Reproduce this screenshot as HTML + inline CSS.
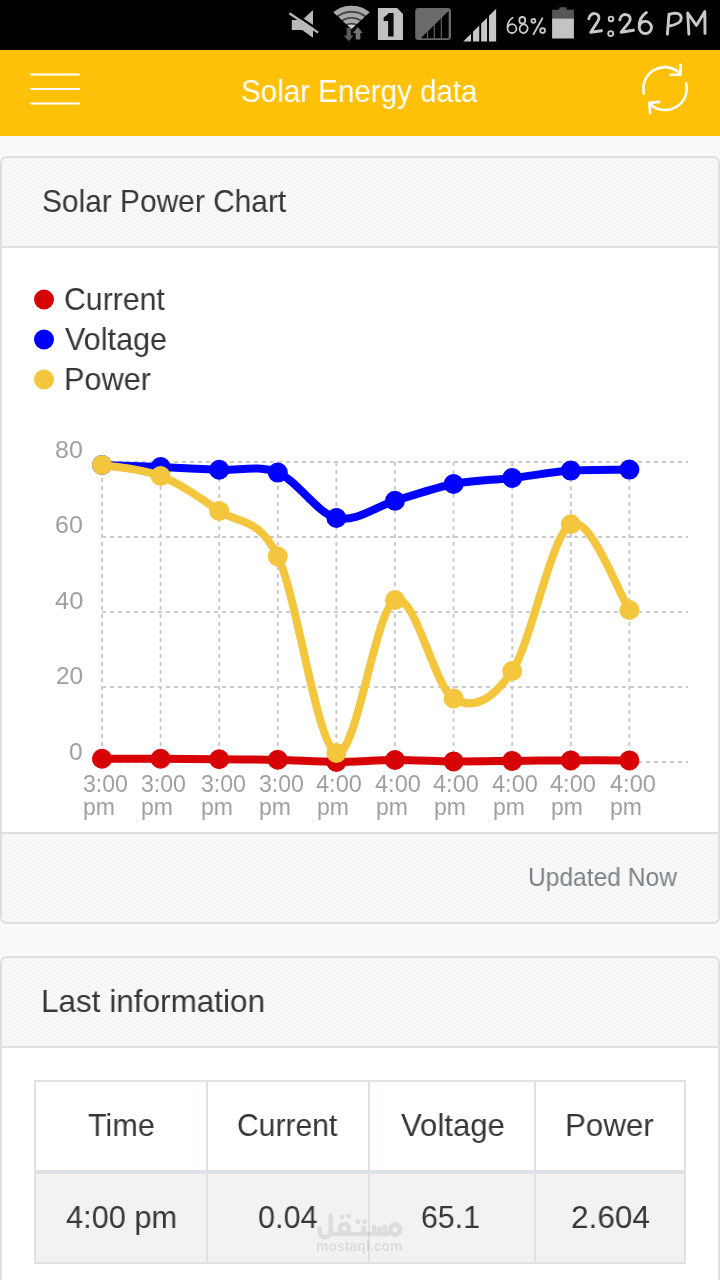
<!DOCTYPE html>
<html>
<head>
<meta charset="utf-8">
<title>Solar Energy data</title>
<style>
*{box-sizing:border-box;margin:0;padding:0}
html,body{width:720px;height:1280px;overflow:hidden;background:#f9f9f9;font-family:"Liberation Sans",sans-serif;color:#373737}
.abs{position:absolute}
#statusbar{left:0;top:0;width:720px;height:50px;background:#000}
#appbar{left:0;top:50px;width:720px;height:86px;background:#ffc107}
.card{left:0;width:720px;border:2px solid #dfdfdf;border-radius:7px;background:#fff;overflow:hidden}
.chead{left:0;top:0;width:716px;height:90px;background:#f8f8f8;border-bottom:2px solid #dfdfdf}
.chead,.cfoot{background-image:radial-gradient(circle at 0.5px 0.5px,#efefef 0.45px,rgba(239,239,239,0) 0.8px),radial-gradient(circle at 0.5px 0.5px,#efefef 0.45px,rgba(239,239,239,0) 0.8px);background-size:4px 4px,4px 4px;background-position:0 0,2px 2px}
.cfoot{left:0;width:716px;height:90px;background-color:#f8f8f8;border-top:2px solid #dfdfdf}
.t{position:absolute;white-space:nowrap;line-height:1;transform-origin:left top;will-change:transform}
.main{font-size:31px;color:#373737}
/* table */
.tb{background:#dee2e6}
.cell{background:#fff}
.cellb{background:#f2f2f2}
</style>
</head>
<body>
<div id="statusbar" class="abs"></div>
<div id="appbar" class="abs"></div>

<!-- CARD 1 -->
<div id="card1" class="abs card" style="top:156px;height:768px">
  <div class="abs chead"></div>
  <div class="abs cfoot" style="top:674px"></div>
</div>

<!-- CARD 2 -->
<div id="card2" class="abs card" style="top:956px;height:360px;border-bottom-left-radius:0;border-bottom-right-radius:0">
  <div class="abs chead"></div>
</div>

<!-- TABLE -->
<div id="table" class="abs tb" style="left:34px;top:1080px;width:652px;height:184px"></div>
<div class="abs cell"  style="left:36px;top:1082px;width:170px;height:88px"></div>
<div class="abs cell"  style="left:208px;top:1082px;width:160px;height:88px"></div>
<div class="abs cell"  style="left:370px;top:1082px;width:164px;height:88px"></div>
<div class="abs cell"  style="left:536px;top:1082px;width:148px;height:88px"></div>
<div class="abs cellb" style="left:36px;top:1174px;width:170px;height:88px"></div>
<div class="abs cellb" style="left:208px;top:1174px;width:160px;height:88px"></div>
<div class="abs cellb" style="left:370px;top:1174px;width:164px;height:88px"></div>
<div class="abs cellb" style="left:536px;top:1174px;width:148px;height:88px"></div>

<div class="t" style="left:241.15px;top:75.00px;font-size:32px;color:#fff;transform:scaleX(0.9228);">Solar Energy data</div>
<div class="t" style="left:41.83px;top:185.40px;font-size:32px;color:#373737;transform:scaleX(0.9340);">Solar Power Chart</div>
<div class="t" style="left:63.71px;top:282.80px;font-size:32px;color:#373737;transform:scaleX(0.9448);">Current</div>
<div class="t" style="left:64.70px;top:322.80px;font-size:32px;color:#373737;transform:scaleX(0.9552);">Voltage</div>
<div class="t" style="left:64.12px;top:362.80px;font-size:32px;color:#373737;transform:scaleX(0.9586);">Power</div>
<div class="t" style="left:55.44px;top:438.52px;font-size:23.5px;color:#a0a0a0;transform:scaleX(1.0625);">80</div>
<div class="t" style="left:55.44px;top:514.02px;font-size:23.5px;color:#a0a0a0;transform:scaleX(1.0625);">60</div>
<div class="t" style="left:54.92px;top:590.02px;font-size:23.5px;color:#a0a0a0;transform:scaleX(1.0833);">40</div>
<div class="t" style="left:55.96px;top:664.52px;font-size:23.5px;color:#a0a0a0;transform:scaleX(1.0417);">20</div>
<div class="t" style="left:69.45px;top:740.52px;font-size:23.5px;color:#a0a0a0;transform:scaleX(1.0455);">0</div>
<div class="t" style="left:82.90px;top:772.55px;font-size:23px;color:#a0a0a0;transform:scaleX(1.0047);">3:00</div>
<div class="t" style="left:83.11px;top:796.25px;font-size:23px;color:#a0a0a0;transform:scaleX(0.9867);">pm</div>
<div class="t" style="left:140.80px;top:772.55px;font-size:23px;color:#a0a0a0;transform:scaleX(1.0047);">3:00</div>
<div class="t" style="left:141.01px;top:796.25px;font-size:23px;color:#a0a0a0;transform:scaleX(0.9867);">pm</div>
<div class="t" style="left:200.80px;top:772.55px;font-size:23px;color:#a0a0a0;transform:scaleX(1.0047);">3:00</div>
<div class="t" style="left:201.01px;top:796.25px;font-size:23px;color:#a0a0a0;transform:scaleX(0.9867);">pm</div>
<div class="t" style="left:258.70px;top:772.55px;font-size:23px;color:#a0a0a0;transform:scaleX(1.0047);">3:00</div>
<div class="t" style="left:258.91px;top:796.25px;font-size:23px;color:#a0a0a0;transform:scaleX(0.9867);">pm</div>
<div class="t" style="left:316.18px;top:772.55px;font-size:23px;color:#a0a0a0;transform:scaleX(1.0233);">4:00</div>
<div class="t" style="left:317.01px;top:796.25px;font-size:23px;color:#a0a0a0;transform:scaleX(0.9867);">pm</div>
<div class="t" style="left:375.38px;top:772.55px;font-size:23px;color:#a0a0a0;transform:scaleX(1.0233);">4:00</div>
<div class="t" style="left:376.21px;top:796.25px;font-size:23px;color:#a0a0a0;transform:scaleX(0.9867);">pm</div>
<div class="t" style="left:433.28px;top:772.55px;font-size:23px;color:#a0a0a0;transform:scaleX(1.0233);">4:00</div>
<div class="t" style="left:434.11px;top:796.25px;font-size:23px;color:#a0a0a0;transform:scaleX(0.9867);">pm</div>
<div class="t" style="left:492.08px;top:772.55px;font-size:23px;color:#a0a0a0;transform:scaleX(1.0233);">4:00</div>
<div class="t" style="left:492.91px;top:796.25px;font-size:23px;color:#a0a0a0;transform:scaleX(0.9867);">pm</div>
<div class="t" style="left:550.38px;top:772.55px;font-size:23px;color:#a0a0a0;transform:scaleX(1.0233);">4:00</div>
<div class="t" style="left:551.21px;top:796.25px;font-size:23px;color:#a0a0a0;transform:scaleX(0.9867);">pm</div>
<div class="t" style="left:609.58px;top:772.55px;font-size:23px;color:#a0a0a0;transform:scaleX(1.0233);">4:00</div>
<div class="t" style="left:610.41px;top:796.25px;font-size:23px;color:#a0a0a0;transform:scaleX(0.9867);">pm</div>
<div class="t" style="left:527.53px;top:864.95px;font-size:25px;color:#7b8288;transform:scaleX(0.9833);">Updated Now</div>
<div class="t" style="left:40.75px;top:985.40px;font-size:32px;color:#373737;transform:scaleX(0.9839);">Last information</div>
<div class="t" style="left:87.55px;top:1108.55px;font-size:32px;color:#373737;transform:scaleX(0.9544);">Time</div>
<div class="t" style="left:237.42px;top:1108.55px;font-size:32px;color:#373737;transform:scaleX(0.9400);">Current</div>
<div class="t" style="left:400.80px;top:1108.55px;font-size:32px;color:#373737;transform:scaleX(0.9724);">Voltage</div>
<div class="t" style="left:565.37px;top:1108.55px;font-size:32px;color:#373737;transform:scaleX(0.9782);">Power</div>
<div class="t" style="left:65.74px;top:1200.80px;font-size:32px;color:#373737;transform:scaleX(0.9602);">4:00 pm</div>
<div class="t" style="left:258.14px;top:1200.80px;font-size:32px;color:#373737;transform:scaleX(0.9567);">0.04</div>
<div class="t" style="left:421.01px;top:1200.80px;font-size:32px;color:#373737;transform:scaleX(0.9475);">65.1</div>
<div class="t" style="left:570.73px;top:1200.80px;font-size:32px;color:#373737;transform:scaleX(0.9857);">2.604</div>
<div class="t" style="left:315.80px;top:1238.60px;font-size:14px;color:rgba(0,0,0,0.09);transform:scaleX(1.0024);font-weight:bold;">mostaql.com</div>
<svg class="abs" style="left:0;top:0" width="720" height="1280" viewBox="0 0 720 1280">
<circle cx="44" cy="299.5" r="10" fill="#d70206"/>
<circle cx="44" cy="339.5" r="10" fill="#0000ff"/>
<circle cx="44" cy="379.5" r="10" fill="#f4c63d"/>
<g stroke="#cbcbcb" stroke-width="2" stroke-dasharray="4 4" fill="none">
<path d="M102.0,462V762"/>
<path d="M160.6,462V762"/>
<path d="M219.2,462V762"/>
<path d="M277.8,462V762"/>
<path d="M336.4,462V762"/>
<path d="M395.0,462V762"/>
<path d="M453.6,462V762"/>
<path d="M512.2,462V762"/>
<path d="M570.8,462V762"/>
<path d="M629.4,462V762"/>
<path d="M102,462H688"/>
<path d="M102,537H688"/>
<path d="M102,612H688"/>
<path d="M102,687H688"/>
<path d="M102,762H688"/>
</g>
<path d="M102.0,758.8C111.8,758.8 141.1,758.7 160.6,758.8C180.1,758.9 199.7,759.1 219.2,759.3C238.7,759.5 258.3,759.3 277.8,759.8C297.3,760.2 316.9,762.0 336.4,762.0C355.9,762.0 375.5,760.1 395.0,760.0C414.5,759.9 434.1,761.2 453.6,761.4C473.1,761.5 492.7,761.1 512.2,760.9C531.7,760.7 551.3,760.5 570.8,760.4C590.3,760.3 619.6,760.4 629.4,760.4" fill="none" stroke="#d70206" stroke-width="8" stroke-linejoin="round"/>
<path d="M102.0,758.8h0.01M160.6,758.8h0.01M219.2,759.3h0.01M277.8,759.8h0.01M336.4,762.0h0.01M395.0,760.0h0.01M453.6,761.4h0.01M512.2,760.9h0.01M570.8,760.4h0.01M629.4,760.4h0.01" fill="none" stroke="#d70206" stroke-width="20" stroke-linecap="round"/>
<path d="M102.0,465.0C111.8,465.3 141.1,466.2 160.6,467.0C180.1,467.8 199.7,468.9 219.2,469.8C238.7,470.7 258.3,464.6 277.8,472.6C297.3,480.6 316.9,513.3 336.4,518.0C355.9,522.7 375.5,506.5 395.0,500.8C414.5,495.1 434.1,487.8 453.6,484.0C473.1,480.2 492.7,480.2 512.2,478.0C531.7,475.8 551.3,472.0 570.8,470.6C590.3,469.2 619.6,469.8 629.4,469.6" fill="none" stroke="#0000ff" stroke-width="8" stroke-linejoin="round"/>
<path d="M102.0,465.0h0.01M160.6,467.0h0.01M219.2,469.8h0.01M277.8,472.6h0.01M336.4,518.0h0.01M395.0,500.8h0.01M453.6,484.0h0.01M512.2,478.0h0.01M570.8,470.6h0.01M629.4,469.6h0.01" fill="none" stroke="#0000ff" stroke-width="20" stroke-linecap="round"/>
<path d="M102.0,465.0C111.8,466.8 141.1,468.3 160.6,476.0C180.1,483.7 199.7,497.6 219.2,511.0C238.7,524.4 258.3,516.2 277.8,556.5C297.3,596.8 316.9,745.8 336.4,753.0C355.9,760.2 375.5,609.1 395.0,600.0C414.5,590.9 434.1,686.7 453.6,698.5C473.1,710.3 492.7,700.1 512.2,671.0C531.7,641.9 551.3,534.4 570.8,524.2C590.3,514.0 619.6,595.7 629.4,610.0" fill="none" stroke="#f4c63d" stroke-width="8" stroke-linejoin="round"/>
<path d="M102.0,465.0h0.01M160.6,476.0h0.01M219.2,511.0h0.01M277.8,556.5h0.01M336.4,753.0h0.01M395.0,600.0h0.01M453.6,698.5h0.01M512.2,671.0h0.01M570.8,524.2h0.01M629.4,610.0h0.01" fill="none" stroke="#f4c63d" stroke-width="20" stroke-linecap="round"/>
</svg>
<svg class="abs" style="left:0;top:0" width="720" height="140" viewBox="0 0 720 140">
<!-- hamburger -->
<g stroke="#fff" stroke-width="2.2" stroke-linecap="round" fill="none">
<path d="M31,74.5H79"/><path d="M31,89H79"/><path d="M31,103.5H79"/>
</g>
<!-- refresh -->
<g stroke="#fff" stroke-width="2.6" stroke-linecap="round" stroke-linejoin="round" fill="none">
<path d="M643.9,93.8A21.6,21.6 0 0 1 680.3,73.6"/>
<path d="M680.6,64.8V74.8H670.6"/>
<path d="M686.1,83.4A21.6,21.6 0 0 1 649.6,103.5"/>
<path d="M650.1,113.2L649.3,102.9L659.3,101.9"/>
</g>
<!-- mute speaker -->
<g fill="#b9b9b9">
<path d="M291.8,20.1H302.2L313,10V37.8L302.2,29.9H291.8Z"/>
</g>
<path d="M290.7,11.3L319.5,30.7" stroke="#000" stroke-width="2.4" fill="none"/>
<path d="M289.4,13.2L318.2,32.6" stroke="#b9b9b9" stroke-width="2.3" fill="none"/>
<!-- wifi -->
<clipPath id="wf"><path d="M0,0.6L-32,-29V-40H32V-29Z"/></clipPath>
<g transform="translate(351.5,28.4)" clip-path="url(#wf)">
<circle cx="0" cy="5.9" r="28.6" fill="#474747"/>
<g fill="none" stroke="#a9a9a9">
<circle cx="0" cy="5.9" r="26.1" stroke-width="5"/>
<circle cx="0" cy="5.9" r="19.5" stroke-width="4.2"/>
<circle cx="0" cy="5.9" r="13.5" stroke-width="4.1"/>
</g>
<circle cx="0" cy="5.9" r="9.7" fill="#cdcdcd"/>
</g>
<path d="M346.7,27.8V35.4H343.6L348.7,41L353.7,35.4H350.8V27.8Z" fill="#5c5c5c"/>
<path d="M355.7,39.6V33H352.9L357.8,27.1L362.6,33H360.3V39.6Z" fill="#757575"/>
<!-- SIM 1 -->
<path d="M377.9,7.9H397.1L403,13.9V39.9H377.9Z" fill="#c1c1c1"/>
<path d="M388.1,12.9H393.6V36.4H388.1V20.9H383.7V17.4L388.1,13.9Z" fill="#0a0a0a"/>
<!-- signal box -->
<rect x="415.2" y="8" width="35.8" height="31.9" rx="3.2" fill="#6a6a6a"/>
<path d="M420.8,38.2L448.6,11V38.2Z" fill="#000"/>
<g stroke="#6a6a6a" stroke-width="1.1"><path d="M427.6,38.2V30"/><path d="M434.3,38.2V24"/><path d="M441.3,38.2V17"/></g>
<!-- signal bars -->
<path d="M463.2,41.4L496.1,8.7V41.4Z" fill="#c6c6c6"/>
<g stroke="#000" stroke-width="1.9"><path d="M472,42V30"/><path d="M480.2,42V22"/><path d="M488,42V14"/></g>
<!-- battery -->
<rect x="559.3" y="7.2" width="7.4" height="3" rx="1" fill="#555"/>
<rect x="552.1" y="9.7" width="21.8" height="9" fill="#555"/>
<rect x="552.1" y="18.5" width="21.8" height="20" fill="#c3c3c3"/>
<!-- status text (rounded hand font drawn as strokes) -->
<g fill="none" stroke="#c9c9c9" stroke-linecap="round" stroke-linejoin="round" stroke-width="1.8">
<path d="M512.6,17.8C509,20 507.2,24.5 507.6,28.8A4.4,4.4 0 1 0 512.2,24.2C510,24.2 508.2,25.6 507.7,27.5"/>
<ellipse cx="522.3" cy="20.3" rx="3" ry="3.3"/><ellipse cx="523.6" cy="28.7" rx="4" ry="4.3" transform="rotate(12 523.6 28.7)"/>
<circle cx="533.4" cy="20.8" r="2"/><path d="M542.4,18.2L533.5,34.3"/><circle cx="542.6" cy="30.6" r="2.4"/>
</g>
<g fill="none" stroke="#c9c9c9" stroke-linecap="round" stroke-linejoin="round" stroke-width="2.9">
<path d="M588.8,18.8C589.5,14.6 593,13.3 595,13.6C599,14.1 600.2,18 597.5,21.8L590.7,32.2L601.5,30.8"/>
<path d="M619.8,19.7C620.5,15.6 624,14.4 626,14.6C630,15.1 631.5,18.5 629,22.3L621.1,32.2L633.5,30.2"/>
<path d="M646.4,12.5C641,16 638.9,22 639.3,27.5A6.1,6.1 0 1 0 645.4,21.4C642.5,21.4 640.2,23.2 639.5,26"/>
<path d="M669,14.3L667.4,34.2M669,14.6C674,12.2 681.4,12.6 681.2,18.5C681,23.4 673,25.4 668.4,26.2"/>
<path d="M688.9,34.2L687.7,13L696.4,25.4L704.8,11.6L705,33.4"/>
</g>
<g fill="none" stroke="#c9c9c9" stroke-width="1.9"><circle cx="611" cy="18.9" r="2.3"/><circle cx="610.7" cy="33.6" r="2.5"/></g>
</svg>
<svg class="abs" style="left:300px;top:1200px" width="120" height="64" viewBox="300 1200 120 64">
<g opacity="0.085" stroke="#000" stroke-width="4.6" stroke-linecap="round" stroke-linejoin="round" fill="none">
<path d="M330.8,1215.5V1231.5A5.6,5.6 0 0 1 319.6,1231.5V1228.5"/>
<path d="M333,1234H388"/>
<circle cx="344.3" cy="1228.6" r="4.6"/>
<path d="M363.8,1234V1227.5"/>
<path d="M374.2,1234V1227"/><path d="M379.5,1234V1228.5"/><path d="M384.8,1234V1227"/>
<circle cx="395.2" cy="1229.6" r="5"/>
<g stroke="none" fill="#000">
<circle cx="342" cy="1216.8" r="2.4"/><circle cx="348.6" cy="1216.2" r="2.4"/>
<circle cx="357.8" cy="1221.8" r="2.5"/><circle cx="364.6" cy="1221.8" r="2.5"/>
</g>
</g>
</svg>

</body>
</html>
